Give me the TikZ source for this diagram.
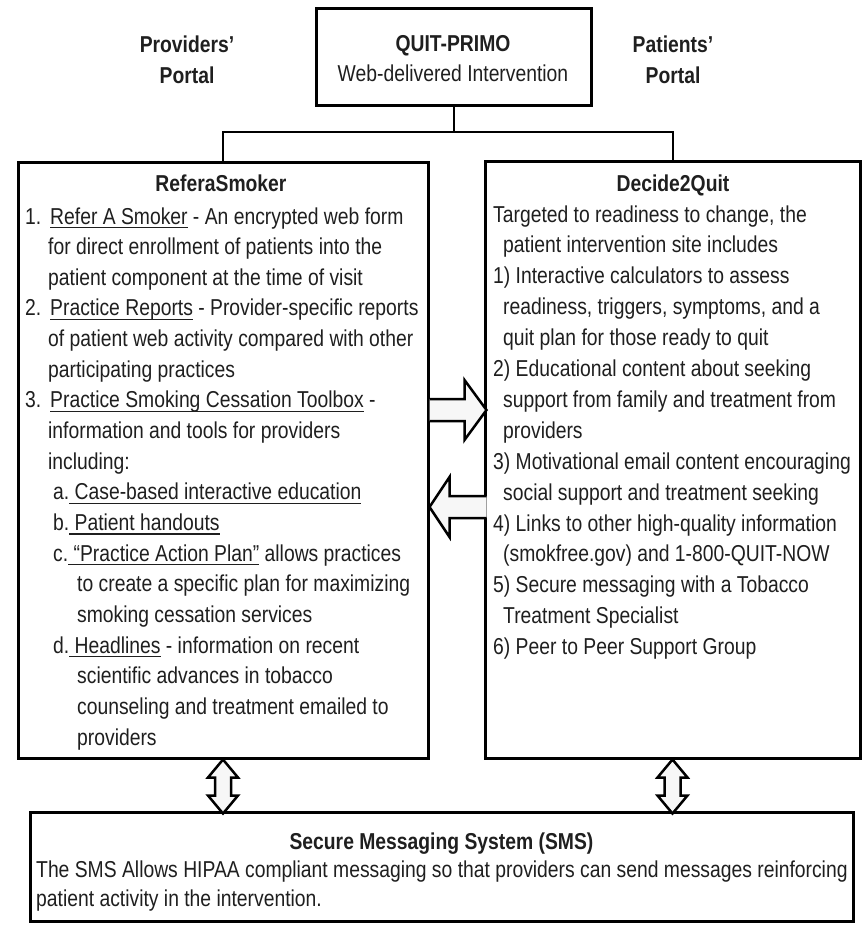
\documentclass[tikz,border=0pt]{standalone}
\usepackage{fontspec}
\setmainfont{Liberation Sans}[FakeStretch=0.84]
\usetikzlibrary{calc}
\newcommand{\ul}[1]{\setbox0\hbox{#1}\rlap{\rule[-4pt]{\wd0}{1.3pt}}\box0\relax}
\newcommand{\bodyfont}{\fontsize{23}{28}\selectfont}
\tikzset{
  box/.style={draw, line width=3pt, inner sep=0pt, fill=white},
  txt/.style={anchor=base west, inner sep=0pt, font=\bodyfont, text=black!88},
  ttl/.style={anchor=base, inner sep=0pt, font=\bodyfont\bfseries, text=black!88},
  ctr/.style={anchor=base, inner sep=0pt, font=\bodyfont, text=black!88},
  conn/.style={line width=2pt},
  harrow/.style={draw, line width=2.5pt, fill=gray!6, line join=miter},
}
\begin{document}
\begin{tikzpicture}[x=1pt, y=-1pt]
\useasboundingbox (0,0) rectangle (864,927);

% boxes
\node[box, minimum width=275pt, minimum height=97pt] (top) at (453.5,56.5) {};
\node[box, minimum width=410pt, minimum height=596pt] (lbox) at (223,460) {};
\node[box, minimum width=375pt, minimum height=597pt] (rbox) at (672.5,459.5) {};
\node[box, minimum width=823pt, minimum height=109pt] (sms) at (441.5,866.5) {};

% tree connector
\draw[conn] (top.south) -- ++(0,25) coordinate (j);
\draw[conn] (lbox.north) |- (j) -| (rbox.north);

% top labels
\node[ttl] (prov1) at (187,52) {Providers'};
\node[ttl] (prov2) at (187,83) {Portal};
\node[ttl] (qp) at (453,51) {QUIT-PRIMO};
\node[ctr] (wdi) at (453,81) {Web-delivered Intervention};
\node[ttl] (pat1) at (673,52) {Patients'};
\node[ttl] (pat2) at (673,83) {Portal};

% left box
\node[ttl] (lt) at (221,191) {ReferaSmoker};
\node[txt] (l1) at (25,224) {\makebox[25pt][l]{1.}\ul{Refer A Smoker} - An encrypted web form};
\node[txt] (l2) at (48,254.6) {for direct enrollment of patients into the};
\node[txt] (l3) at (48,285.3) {patient component at the time of visit};
\node[txt] (l4) at (25,315.9) {\makebox[25pt][l]{2.}\ul{Practice Reports} - Provider-specific reports};
\node[txt] (l5) at (48,346.6) {of patient web activity compared with other};
\node[txt] (l6) at (48,377.2) {participating practices};
\node[txt] (l7) at (25,407.9) {\makebox[25pt][l]{3.}\ul{Practice Smoking Cessation Toolbox} -};
\node[txt] (l8) at (48,438.5) {information and tools for providers};
\node[txt] (l9) at (48,469.2) {including:};
\node[txt] (l10) at (53,499.8) {a.\ul{\ Case-based interactive education}};
\node[txt] (l11) at (53,530.5) {b.\ul{\ Patient handouts}};
\node[txt] (l12) at (53,561.1) {c.\ul{\ “Practice Action Plan”} allows practices};
\node[txt] (l13) at (77,591.8) {to create a specific plan for maximizing};
\node[txt] (l14) at (77,622.4) {smoking cessation services};
\node[txt] (l15) at (53,653.1) {d.\ul{\ Headlines} - information on recent};
\node[txt] (l16) at (77,683.7) {scientific advances in tobacco};
\node[txt] (l17) at (77,714.4) {counseling and treatment emailed to};
\node[txt] (l18) at (77,745) {providers};

% right box
\node[ttl] (rt) at (673,191) {Decide2Quit};
\node[txt] (r1) at (493,222) {Targeted to readiness to change, the};
\node[txt] (r2) at (503,252.9) {patient intervention site includes};
\node[txt] (r3) at (493,283.8) {1) Interactive calculators to assess};
\node[txt] (r4) at (503,314.7) {readiness, triggers, symptoms, and a};
\node[txt] (r5) at (503,345.6) {quit plan for those ready to quit};
\node[txt] (r6) at (493,376.5) {2) Educational content about seeking};
\node[txt] (r7) at (503,407.4) {support from family and treatment from};
\node[txt] (r8) at (503,438.3) {providers};
\node[txt] (r9) at (493,469.2) {3) Motivational email content encouraging};
\node[txt] (r10) at (503,500.1) {social support and treatment seeking};
\node[txt] (r11) at (493,531) {4) Links to other high-quality information};
\node[txt] (r12) at (503,561.9) {(smokfree.gov) and 1-800-QUIT-NOW};
\node[txt] (r13) at (493,592.8) {5) Secure messaging with a Tobacco};
\node[txt] (r14) at (503,623.7) {Treatment Specialist};
\node[txt] (r15) at (493,654.6) {6) Peer to Peer Support Group};

% SMS box
\node[ttl] (st) at (441.5,849) {Secure Messaging System (SMS)};
\node[txt] (s1) at (36,877) {The SMS Allows HIPAA compliant messaging so that providers can send messages reinforcing};
\node[txt] (s2) at (36,906) {patient activity in the intervention.};

% horizontal block arrows
\coordinate (ra) at ([yshift=50pt]lbox.east);
\path[harrow] ($(ra)+(0,-11)$) -- ++(35,0) -- ++(0,-19) -- ++(22,30) -- ++(-22,30) -- ++(0,-19) -- ++(-35,0);
\coordinate (la) at ([yshift=-47pt]lbox.east);
\path[harrow] ($(la)+(57,-11)$) -- ++(-37,0) -- ++(0,-19) -- ++(-20,30) -- ++(20,30) -- ++(0,-19) -- ++(37,0);

% vertical double arrows
\path[harrow] (lbox.south) -- ++(15,18) -- ++(-7,0) -- ++(0,18) -- ++(7,0) -- ++(-15,18) -- ++(-15,-18) -- ++(7,0) -- ++(0,-18) -- ++(-7,0) -- cycle;
\path[harrow] (rbox.south) -- ++(15,18) -- ++(-7,0) -- ++(0,18) -- ++(7,0) -- ++(-15,18) -- ++(-15,-18) -- ++(7,0) -- ++(0,-18) -- ++(-7,0) -- cycle;
\end{tikzpicture}
\end{document}
